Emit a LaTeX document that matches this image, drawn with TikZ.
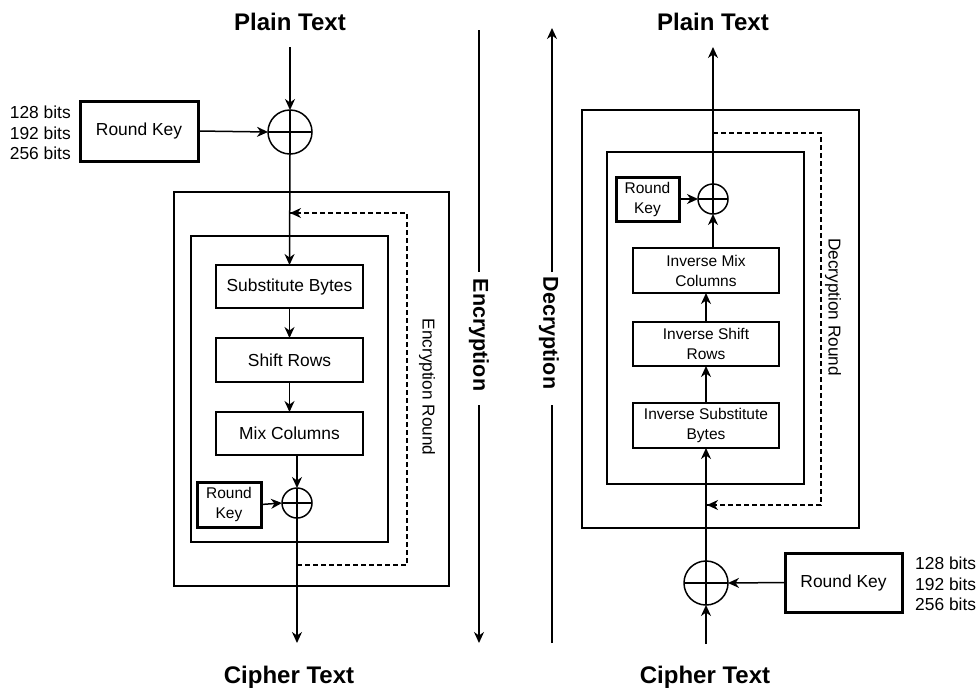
\documentclass[tikz,border=0pt]{standalone}
\usepackage{fontspec}
\setmainfont{Liberation Sans}
\usetikzlibrary{arrows.meta,calc}
\begin{document}
\begin{tikzpicture}[x=1pt,y=-1pt,
  ln/.style={line width=1.5pt},
  arr/.style={line width=1.5pt,-{Stealth[length=11pt,width=10pt,inset=3.5pt]}},
  dsh/.style={line width=1.5pt,dash pattern=on 5pt off 3pt},
  blk/.style={draw,line width=1.5pt,inner sep=0pt,outer sep=0pt,align=center},
  thk/.style={draw,line width=3pt,inner sep=0pt,outer sep=0pt,align=center},
  xorbig/.style={draw,circle,line width=1.5pt,minimum size=44pt,inner sep=0pt,outer sep=0pt},
  xorsm/.style={draw,circle,line width=1.5pt,minimum size=30pt,inner sep=0pt,outer sep=0pt},
  ttl/.style={font=\bfseries\fontsize{24}{28}\selectfont,inner sep=0pt},
  side/.style={font=\bfseries\fontsize{21.5}{24}\selectfont,inner sep=0pt,rotate=-90},
  big/.style={font=\fontsize{17.4}{20.5}\selectfont},
  sml/.style={font=\fontsize{15.5}{20}\selectfont},
  lbl/.style={font=\fontsize{17.2}{20}\selectfont,inner sep=0pt,rotate=-90}
]
\useasboundingbox (0,0) rectangle (979,691);

% ================= Encryption (left) =================
\node[ttl,anchor=base] (plainL) at (290,30) {Plain Text};
\coordinate (plainLend) at (290,47);
\node[xorbig] (xorL) at (290,132) {};
\draw[ln] (xorL.north) -- (xorL.south) (xorL.west) -- (xorL.east);
\node[thk,big,minimum width=118pt,minimum height=60pt] (rkL) at (139,131) {Round Key};
\node[big,anchor=east,align=right,inner sep=0pt] (bitsL) at (71,133) {128 bits\\192 bits\\256 bits};

\draw[ln] (174,192) rectangle (449,586);
\draw[ln] (191,236) rectangle (388,542);

\node[blk,big,minimum width=147pt,minimum height=43pt] (sub) at (289.5,286.5) {Substitute Bytes};
\node[blk,big,minimum width=147pt,minimum height=44pt] (shift) at (289.5,360) {Shift Rows};
\node[blk,big,minimum width=147pt,minimum height=43pt] (mix) at (289.5,433.5) {Mix Columns};
\node[xorsm] (xorLS) at (297,503) {};
\draw[ln] (xorLS.north) -- (xorLS.south) (xorLS.west) -- (xorLS.east);
\node[thk,sml,minimum width=64pt,minimum height=45pt] (rkLS) at (229,504.5) {Round\\Key};

\coordinate (cipherLend) at (297,643);
\node[ttl,anchor=base] (cipherL) at (289,683) {Cipher Text};

\draw[arr] (plainLend) -- (xorL.north);
\draw[arr] (rkL.east) -- (xorL.west);
\draw[arr] (xorL.south) -- (sub.north);
\draw[arr] (sub.south) -- (shift.north);
\draw[arr] (shift.south) -- (mix.north);
\draw[arr] (mix.south -| xorLS) -- (xorLS.north);
\draw[arr] (rkLS.east) -- (xorLS.west);
\draw[arr] (xorLS.south) -- (cipherLend);

\coordinate (dLa) at (297,565);
\coordinate (dLb) at (407,565);
\coordinate (dLc) at (407,213);
\coordinate (dLd) at (290,213);
\draw[dsh] (dLa) -- (dLb) -- (dLc) -- (dLd);
\draw[arr] ($(dLd)+(1,0)$) -- (dLd);

\node[lbl] (encR) at (427,387) {Encryption Round};

% ================= Middle =================
\node[side] (enc) at (479,335) {Encryption};
\coordinate (e1) at (479,30);
\coordinate (e2) at (479,272);
\coordinate (e3) at (479,405);
\coordinate (e4) at (479,643);
\draw[ln] (e1) -- (e2);
\draw[arr] (e3) -- (e4);

\node[side] (dec) at (549,333) {Decryption};
\coordinate (d1) at (552,643);
\coordinate (d2) at (552,405);
\coordinate (d3) at (552,272);
\coordinate (d4) at (552,28);
\draw[ln] (d1) -- (d2);
\draw[arr] (d3) -- (d4);

% ================= Decryption (right) =================
\node[ttl,anchor=base] (plainR) at (713,30) {Plain Text};
\coordinate (plainRend) at (713,47);

\draw[ln] (582,110) rectangle (859,528);
\draw[ln] (607,152) rectangle (804,484);

\node[xorsm] (xorRS) at (713,199) {};
\draw[ln] (xorRS.north) -- (xorRS.south) (xorRS.west) -- (xorRS.east);
\node[thk,sml,minimum width=63pt,minimum height=44pt] (rkRS) at (647.5,199) {Round\\Key};
\node[blk,sml,minimum width=146pt,minimum height=45pt] (imc) at (706,270.5) {Inverse Mix\\Columns};
\node[blk,sml,minimum width=146pt,minimum height=44pt] (isr) at (706,344) {Inverse Shift\\Rows};
\node[blk,sml,minimum width=146pt,minimum height=45pt] (isb) at (706,425.5) {Inverse Substitute\\Bytes};

\node[xorbig] (xorR) at (706,583) {};
\draw[ln] (xorR.north) -- (xorR.south) (xorR.west) -- (xorR.east);
\node[thk,big,minimum width=117pt,minimum height=59pt] (rkR) at (843.5,582.5) {Round Key};
\node[big,anchor=west,align=left,inner sep=0pt] (bitsR) at (915,584) {128 bits\\192 bits\\256 bits};

\coordinate (cipherRend) at (706,644);
\node[ttl,anchor=base] (cipherR) at (705,683) {Cipher Text};

\draw[arr] (cipherRend) -- (xorR.south);
\draw[arr] (rkR.west) -- (xorR.east);
\draw[arr] (xorR.north) -- (isb.south);
\draw[arr] (isb.north) -- (isr.south);
\draw[arr] (isr.north) -- (imc.south);
\draw[arr] (imc.north -| xorRS) -- (xorRS.south);
\draw[arr] (rkRS.east) -- (xorRS.west);
\draw[arr] (xorRS.north) -- (plainRend);

\coordinate (dRa) at (713,133);
\coordinate (dRb) at (821,133);
\coordinate (dRc) at (821,505);
\coordinate (dRd) at (707,505);
\draw[dsh] (dRa) -- (dRb) -- (dRc) -- (dRd);
\draw[arr] ($(dRd)+(1,0)$) -- (dRd);

\node[lbl] (decR) at (833,307) {Decryption Round};
\end{tikzpicture}
\end{document}
